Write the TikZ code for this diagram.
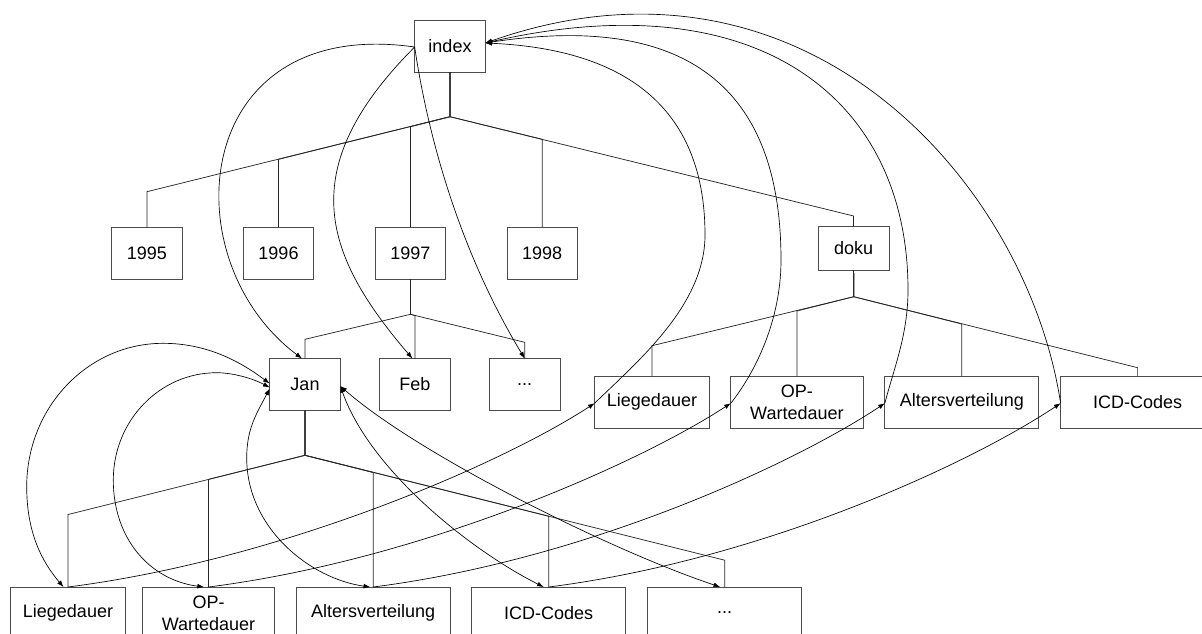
\documentclass[tikz,border=0pt]{standalone}
\usepackage{fontspec}
\setmainfont{Liberation Sans}
\usetikzlibrary{arrows.meta,calc}
\begin{document}
\begin{tikzpicture}[x=0.75pt,y=-0.75pt,
  box/.style={draw=black!70, line width=0.6pt, inner sep=0pt, outer sep=0pt, align=center,
    font=\fontsize{13.5}{16.2}\selectfont, minimum height=39pt},
  tree/.style={draw=black!85, line width=0.55pt},
  link/.style={draw=black, line width=0.5pt, -{Latex[length=5pt,width=3.6pt]}},
  blink/.style={draw=black, line width=0.5pt, {Latex[length=5pt,width=3.6pt]}-{Latex[length=5pt,width=3.6pt]}},
]
\useasboundingbox (0,0) rectangle (1202,633);
\clip (0,0) rectangle (1202,633);

% nodes
\node[box, minimum width=53pt] (index) at (450,46) {index};
\node[box, minimum width=52.9pt] (y1995) at (146.9,253) {1995};
\node[box, minimum width=52.9pt] (y1996) at (278.5,253) {1996};
\node[box, minimum width=52.9pt] (y1997) at (410.4,253) {1997};
\node[box, minimum width=52.9pt] (y1998) at (542.2,253) {1998};
\node[box, minimum width=53.25pt, minimum height=32.7pt] (doku) at (853.6,248.5) {doku};

\node[box, minimum width=53pt] (Jan) at (305,384.5) {Jan};
\node[box, minimum width=52.8pt] (Feb) at (414.9,384.5) {Feb};
\node[box, minimum width=53pt] (dots1) at (524.7,384.5) {...};

\node[box, minimum width=86pt] (dLieg) at (652,402.2) {Liegedauer};
\node[box, minimum width=99.1pt] (dOP) at (796.9,402.2) {OP-\\Wartedauer};
\node[box, minimum width=115.4pt] (dAlt) at (961.8,402.2) {Altersverteilung};
\node[box, minimum width=115.5pt] (dICD) at (1137.6,402.2) {ICD-Codes};

\node[box, minimum width=86pt] (bLieg) at (68,613) {Liegedauer};
\node[box, minimum width=98.7pt] (bOP) at (208.5,613) {OP-\\Wartedauer};
\node[box, minimum width=115.3pt] (bAlt) at (373.2,613) {Altersverteilung};
\node[box, minimum width=115.5pt] (bICD) at (548.7,613) {ICD-Codes};
\node[box, minimum width=115.5pt] (bDots) at (724.7,613) {...};

% tree: index
\coordinate (J0) at (450,116.7);
\draw[tree] (index.south) -- (J0) -- (y1995.north |- 0,191.7) -- (y1995.north);
\draw[tree] (index.south) -- (J0) -- (y1996.north |- 0,159.3) -- (y1996.north);
\draw[tree] (index.south) -- (J0) -- (y1997.north |- 0,126.7) -- (y1997.north);
\draw[tree] (index.south) -- (J0) -- (y1998.north |- 0,139.3) -- (y1998.north);
\draw[tree] (index.south) -- (J0) -- (doku.north |- 0,216) -- (doku.north);

% tree: 1997
\coordinate (J1) at (410.4,314.3);
\draw[tree] (y1997.south) -- (J1) -- (Jan.north |- 0,339.3) -- (Jan.north);
\draw[tree] (y1997.south) -- (J1) -- (Feb.north |- 0,315.5) -- (Feb.north);
\draw[tree] (y1997.south) -- (J1) -- (dots1.north |- 0,342.3) -- (dots1.north);

% tree: Jan
\coordinate (J2) at (305,455.3);
\draw[tree] (Jan.south) -- (J2) -- (bLieg.north |- 0,514.5) -- (bLieg.north);
\draw[tree] (Jan.south) -- (J2) -- (bOP.north |- 0,479.4) -- (bOP.north);
\draw[tree] (Jan.south) -- (J2) -- (bAlt.north |- 0,472.5) -- (bAlt.north);
\draw[tree] (Jan.south) -- (J2) -- (bICD.north |- 0,516.2) -- (bICD.north);
\draw[tree] (Jan.south) -- (J2) -- (bDots.north |- 0,560.2) -- (bDots.north);

% tree: doku
\coordinate (J3) at (853.8,296.7);
\draw[tree] (doku.south) -- (J3) -- (dLieg.north |- 0,345.7) -- (dLieg.north);
\draw[tree] (doku.south) -- (J3) -- (dOP.north |- 0,311) -- (dOP.north);
\draw[tree] (doku.south) -- (J3) -- (dAlt.north |- 0,324) -- (dAlt.north);
\draw[tree] (doku.south) -- (J3) -- (dICD.north |- 0,367.7) -- (dICD.north);

% links from index
\draw[link] ($(index.west)+(0,1)$) .. controls (190,15) and (170,260) .. ($(Jan.north)+(-3,0)$);
\draw[link] ($(index.west)+(0,1)$) .. controls (295,167) and (321,252) .. ($(Feb.north)+(-2.5,0)$);
\draw[link] ($(index.west)+(0,1)$) .. controls (430,150) and (465,260) .. (dots1.north);

% links from doku pages back to index
\draw[link] ($(dLieg.west)+(0,1)$) .. controls (638,361) and (705,305) .. (705,235)
  .. controls (705,120) and (640,50) .. ($(index.east)+(0,-3)$);
\draw[link] ($(dOP.west)+(0,1)$) .. controls (755.6,371.8) and (781,320) .. (781,260)
  .. controls (781,100) and (700,10) .. ($(index.east)+(0,-3)$);
\draw[link] ($(dAlt.west)+(0,1)$) .. controls (893.6,369) and (908,335) .. (908,290)
  .. controls (908,100) and (760,-20) .. ($(index.east)+(0,-3)$);
\draw[link] ($(dICD.west)+(0,1)$) .. controls (1027.6,185.2) and (807,-70) .. ($(index.east)+(0,-3)$);

% links between Jan and its pages
\draw[blink] ($(Jan.west)+(0,-1)$) .. controls (241.3,362.3) and (208,343.3) .. (163,343.3)
  .. controls (87.7,343.3) and (26.7,407.5) .. (26.7,486.7)
  .. controls (26.7,531.7) and (41.3,561) .. ($(bLieg.north)+(-4.5,0)$);
\draw[blink] ($(Jan.west)+(0,3)$) .. controls (252,378) and (232,372.7) .. (216.7,372.7)
  .. controls (159.6,372.7) and (113.3,420.7) .. (113.3,480)
  .. controls (113.3,539) and (150,580) .. ($(bOP.north)+(-4.5,0)$);
\draw[blink] ($(Jan.west)+(0,4)$) .. controls (257,413) and (246.7,428) .. (246.7,458)
  .. controls (246.7,528) and (310,578.7) .. ($(bAlt.north)+(-3,0)$);
\draw[blink] ($(Jan.east)+(0,1.5)$) .. controls (370,470) and (470,550) .. ($(bICD.north)+(-5,0)$);
\draw[blink] ($(Jan.east)+(0,1.5)$) .. controls (415,452) and (606,548.8) .. ($(bDots.north)+(-4.5,0)$);

% links from Jan pages to doku pages
\draw[link] (bLieg.north) .. controls (280,560) and (500,465) .. ($(dLieg.west)+(0,1)$);
\draw[link] (bOP.north) .. controls (420.5,560) and (636,465) .. ($(dOP.west)+(0,1)$);
\draw[link] (bAlt.north) .. controls (585,560) and (792,465) .. ($(dAlt.west)+(0,1)$);
\draw[link] (bICD.north) .. controls (761,560) and (968,465) .. ($(dICD.west)+(0,1)$);
\end{tikzpicture}
\end{document}
